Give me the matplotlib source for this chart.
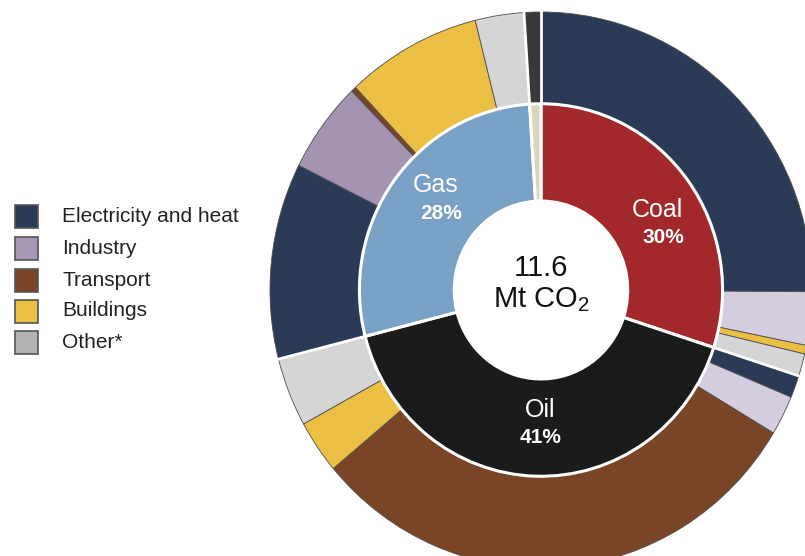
import matplotlib
matplotlib.use('Agg')
import matplotlib.pyplot as plt
import numpy as np
from matplotlib.patches import Rectangle

plt.rcParams['font.family'] = ['Liberation Sans', 'DejaVu Sans']
plt.rcParams['mathtext.fontset'] = 'custom'
plt.rcParams['mathtext.rm'] = 'Liberation Sans'

# ---------------- data ----------------
fuels = ['Coal', 'Oil', 'Gas', 'Other']
fuel_share = [30, 41, 28, 1]                      # % of total CO2
fuel_pct_labels = ['30%', '41%', '28%', '']
sectors = ['Electricity and heat', 'Industry', 'Transport', 'Buildings', 'Other*']
coal_by_sector = [25.1, 3.1, 0.0, 0.5, 1.3]      # % of total, sector order above
oil_by_sector = [1.3, 2.3, 30.3, 3.1, 4.0]
gas_by_sector = [11.4, 5.3, 0.3, 8.1, 2.9]
other_fuel_total = [1.0]
total_text = '11.6'
unit_text = 'Mt CO$_2$'

# ---------------- styles ----------------
fuel_colors = ['#a3282b', '#1b1b1b', '#79a0c5', '#dad7bd']
sector_colors = ['#2b3a56', '#d4cde0', '#7a4527', '#ebbf43', '#d5d5d5']
gas_industry_color = '#a594b1'
other_fuel_outer_color = '#393939'
legend_colors = ['#2b3a56', '#a898b8', '#7a4527', '#ebbf43', '#b3b3b3']
label_angle_shift = [7.6, -1.4, 4.8, 0]   # degrees, nudges label placement
label_radius = [0.50, 0.48, 0.50, 0.5]
label_x_nudge = [0.01, 0.0, 0.01, 0.0]

outer_vals, outer_cols = [], []
for fi, vals in enumerate([coal_by_sector, oil_by_sector, gas_by_sector]):
    for si, v in enumerate(vals):
        if v <= 0:
            continue
        c = sector_colors[si]
        if fuels[fi] == 'Gas' and si == 1:
            c = gas_industry_color
        outer_vals.append(v)
        outer_cols.append(c)
outer_vals += other_fuel_total
outer_cols.append(other_fuel_outer_color)

W, H = 805, 556
fig = plt.figure(figsize=(W / 100, H / 100), dpi=100)
ax = fig.add_axes([0, 0, 1, 1])

R_OUT, R_IN, R_HOLE = 1.0, 0.67, 0.32
ax.pie(outer_vals, radius=R_OUT, colors=outer_cols, startangle=90,
       counterclock=False,
       wedgeprops=dict(width=R_OUT - R_IN, edgecolor='#4d4d4d', linewidth=0.6))
ax.pie(fuel_share, radius=R_IN, colors=fuel_colors, startangle=90,
       counterclock=False,
       wedgeprops=dict(width=R_IN - R_HOLE, edgecolor='white', linewidth=2.2))

# white separators between fuel groups in outer ring
cum = np.cumsum([0] + fuel_share)
for c in cum[:-1]:
    th = np.deg2rad(360 * c / 100)
    ax.plot([R_IN * np.sin(th), 1.02 * np.sin(th)],
            [R_IN * np.cos(th), 1.02 * np.cos(th)],
            color='white', lw=2.0, solid_capstyle='butt', zorder=5)

# fuel labels
for name, pct, start, share, dang, r, dx in zip(fuels, fuel_pct_labels, cum[:-1],
                                                fuel_share, label_angle_shift,
                                                label_radius, label_x_nudge):
    if not pct:
        continue
    mid = np.deg2rad(360 * (start + share / 2) / 100 + dang)
    x, y = r * np.sin(mid), r * np.cos(mid)
    ax.text(x - dx, y + 0.05, name, color='white', fontsize=18, ha='center', va='center', zorder=6)
    ax.text(x + dx, y - 0.05, pct, color='white', fontsize=15, fontweight='bold',
            ha='center', va='center', zorder=6)

ax.text(0, 0.079, total_text, fontsize=21, ha='center', va='center', color='#111111')
ax.text(0, -0.036, unit_text, fontsize=21, ha='center', va='center', color='#111111')

ax.set_aspect('auto')
cx, cy, rx, ry = 541, 290, 271, 278
ax.set_xlim(-cx / rx, (W - cx) / rx)
ax.set_ylim(-(H - cy) / ry, cy / ry)
ax.axis('off')

# legend
row_y = [216, 248, 280, 311, 342]
for lab, col, yc in zip(sectors, legend_colors, row_y):
    fig.add_artist(Rectangle((15 / W, 1 - (yc + 11.5) / H), 23 / W, 23 / H,
                             transform=fig.transFigure, facecolor=col,
                             edgecolor='#555555', lw=1.2))
    fig.text(62 / W, 1 - yc / H, lab, fontsize=15, va='center', ha='left', color='#222222')

fig.savefig('out.png', dpi=100)
